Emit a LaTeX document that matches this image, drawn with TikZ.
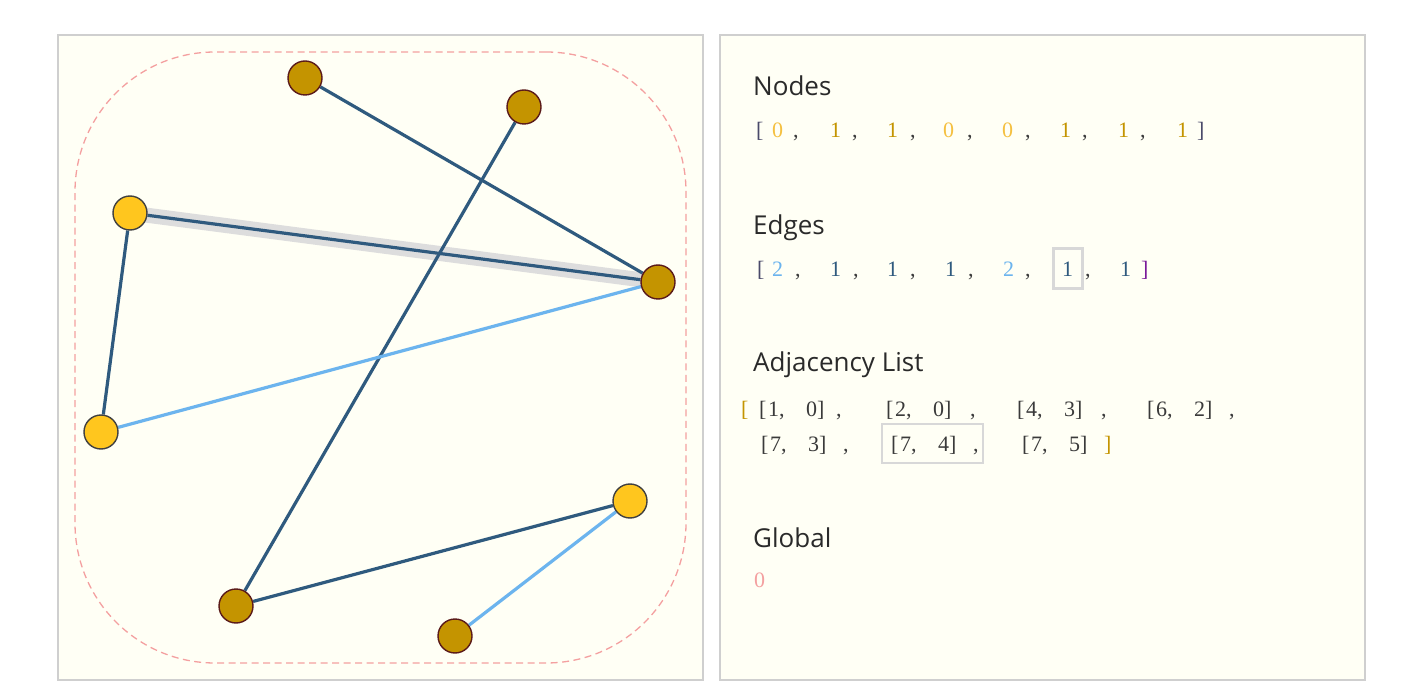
\documentclass[tikz,border=0pt]{standalone}
\usepackage{fontspec}
\setmainfont{Liberation Serif}
\newfontfamily\hdfont{Open Sans}
\pgfdeclarelayer{bg}
\pgfdeclarelayer{edges}
\pgfsetlayers{bg,edges,main}
\definecolor{panelbg}{HTML}{FFFFF5}
\definecolor{panelline}{HTML}{CFCFCF}
\definecolor{darkgold}{HTML}{C49400}
\definecolor{sunyellow}{HTML}{FFC61E}
\definecolor{maroon}{HTML}{5A1A1A}
\definecolor{nodegray}{HTML}{404040}
\definecolor{edgedark}{HTML}{2F5A7E}
\definecolor{edgelight}{HTML}{6CB4EE}
\definecolor{hlgray}{HTML}{DDDDDD}
\definecolor{hdtext}{HTML}{2A2A2A}
\definecolor{selgray}{HTML}{D8D8D8}
\definecolor{dashpink}{HTML}{F4A0A0}
\definecolor{numlight}{HTML}{F5C040}
\definecolor{numdark}{HTML}{C49400}
\definecolor{brk}{HTML}{4A4A6A}
\definecolor{brkpurple}{HTML}{7A1A9A}
\definecolor{txt}{HTML}{3A3A3A}
\newcommand{\pairtxt}[2]{[\hspace{1.7pt}#1,\hspace{21.5pt}#2]}
\begin{document}
\begin{tikzpicture}[x=1pt,y=-1pt,
  panel/.style={draw=panelline, fill=panelbg, line width=1.1pt},
  gnode/.style={circle, minimum size=34pt, inner sep=0pt, line width=1.4pt},
  darkn/.style={gnode, fill=darkgold, draw=maroon},
  lightn/.style={gnode, fill=sunyellow, draw=nodegray},
  darkedge/.style={draw=edgedark, line width=3.2pt},
  lightedge/.style={draw=edgelight, line width=3.2pt},
  hilite/.style={draw=hlgray, line width=15pt},
  hd/.style={anchor=base west, inner sep=0pt, font=\hdfont\fontsize{26}{31}\selectfont, text=hdtext},
  tok/.style={anchor=base west, inner sep=0pt, font=\fontsize{22}{26}\selectfont},
  sel/.style={draw=selgray, line width=2.5pt, inner sep=0pt}
]
\path[use as bounding box] (0,0) rectangle (1408,700);
\begin{pgfonlayer}{bg}
\fill[white] (0,0) rectangle (1408,700);
\node[panel, minimum width=645pt, minimum height=645pt, inner sep=0pt] (leftpanel) at (380.5,357.5) {};
\node[panel, minimum width=645pt, minimum height=645pt, inner sep=0pt] (rightpanel) at (1042.5,357.5) {};
\node[draw=dashpink, dash pattern=on 7pt off 4.5pt, line width=1.3pt, rounded corners=140pt,
  minimum width=611pt, minimum height=611pt, inner sep=0pt] (hull) at (380.5,357.5) {};
\end{pgfonlayer}

% graph nodes
\node[darkn] (A) at (305,78) {};
\node[darkn] (B) at (524,107) {};
\node[lightn] (C) at (130,213) {};
\node[darkn] (D) at (658,282) {};
\node[lightn] (E) at (101,432) {};
\node[lightn] (F) at (630,501) {};
\node[darkn] (G) at (236,606) {};
\node[darkn] (H) at (455,636) {};

\begin{pgfonlayer}{edges}
\draw[hilite] (C.center) -- (D.center);
\draw[darkedge] (A) -- (D);
\draw[darkedge] (B) -- (G);
\draw[darkedge] (C) -- (D);
\draw[darkedge] (C) -- (E);
\draw[lightedge] (E) -- (D);
\draw[darkedge] (G) -- (F);
\draw[lightedge] (H) -- (F);
\end{pgfonlayer}

% headers
\node[hd] (hNodes) at (753,96) {Nodes};
\node[hd] (hEdges) at (753,235) {Edges};
\node[hd] (hAdj) at (753,372) {Adjacency List};
\node[hd] (hGlobal) at (753,547) {Global};

% Nodes row
\node[tok, text=brk] (nb0) at (756,138) {[};
\foreach \x/\v/\c [count=\i] in {772/0/numlight, 830/1/numdark, 887/1/numdark, 943/0/numlight, 1002/0/numlight, 1060/1/numdark, 1118/1/numdark, 1177/1/numdark}
  \node[tok, text=\c] (nv\i) at (\x,138) {\v};
\foreach \x [count=\i] in {793,852,910,967,1025,1082,1140}
  \node[tok, text=txt] (nc\i) at (\x,138) {,};
\node[tok, text=brk] (nb1) at (1197,138) {]};

% Edges row
\node[tok, text=brk] (eb0) at (757,277) {[};
\foreach \x/\v/\c [count=\i] in {772/2/edgelight, 830/1/edgedark, 887/1/edgedark, 945/1/edgedark, 1003/2/edgelight, 1062/1/edgedark, 1120/1/edgedark}
  \node[tok, text=\c] (ev\i) at (\x,277) {\v};
\foreach \x [count=\i] in {795,853,910,968,1025,1085}
  \node[tok, text=txt] (ec\i) at (\x,277) {,};
\node[tok, text=brkpurple] (eb1) at (1141,277) {]};
\node[sel, minimum width=29pt, minimum height=40pt] (selEdge) at (1068,268.5) {};

% Adjacency rows
\node[tok, text=darkgold] (ab0) at (741,416) {[};
\foreach \x/\a/\b [count=\i] in {759/1/0, 886/2/0, 1017/4/3, 1147/6/2}
  \node[tok, text=txt] (ar\i) at (\x,416) {\pairtxt{\a}{\b}};
\foreach \x [count=\i] in {836,970,1101,1229}
  \node[tok, text=txt] (ac\i) at (\x,416) {,};
\node[tok, text=txt] (as1) at (761,451) {\pairtxt{7}{3}};
\node[tok, text=txt] (as2) at (891,451) {\pairtxt{7}{4}};
\node[tok, text=txt] (as3) at (1022,451) {\pairtxt{7}{5}};
\node[tok, text=txt] (asc1) at (843,451) {,};
\node[tok, text=txt] (asc2) at (973,451) {,};
\node[tok, text=darkgold] (ab1) at (1104,451) {]};
\node[sel, minimum width=101pt, minimum height=39pt] (selAdj) at (932.5,443.5) {};

% Global
\node[tok, text=dashpink] (gv) at (754,587) {0};
\end{tikzpicture}
\end{document}
